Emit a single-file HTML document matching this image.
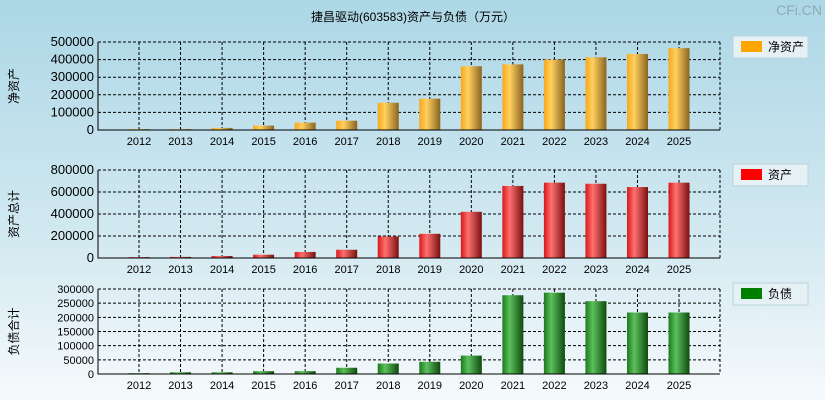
<!DOCTYPE html>
<html><head><meta charset="utf-8"><style>
html,body{margin:0;padding:0;}
body{width:825px;height:400px;overflow:hidden;background:linear-gradient(#acd7e6,#d3e9f1 60%,#f6fafc);font-family:"Liberation Sans","Noto Sans CJK SC",sans-serif;}
</style></head><body>
<svg id="c" width="825" height="400" style="position:absolute;left:0;top:0">
<defs>
<linearGradient id="gOr" x1="0" x2="1"><stop offset="0" stop-color="#f7a81c"/><stop offset="0.35" stop-color="#ffd060"/><stop offset="1" stop-color="#8a6420"/></linearGradient>
<linearGradient id="gRd" x1="0" x2="1"><stop offset="0" stop-color="#d81818"/><stop offset="0.35" stop-color="#ff7070"/><stop offset="1" stop-color="#7a1010"/></linearGradient>
<linearGradient id="gGr" x1="0" x2="1"><stop offset="0" stop-color="#1d7a1d"/><stop offset="0.35" stop-color="#5cc05c"/><stop offset="1" stop-color="#0e4a0e"/></linearGradient>
</defs>
<text x="413" y="21" font-size="12" text-anchor="middle">捷昌驱动(603583)资产与负债（万元）</text>
<text x="822" y="15" font-size="14" text-anchor="end" fill="#8fa9b5">CFi.CN</text>
</svg>
<script>
const years=["2012","2013","2014","2015","2016","2017","2018","2019","2020","2021","2022","2023","2024","2025"];
const netAssets=[5000,5000,12000,25000,42000,53000,155000,178000,362000,373000,400000,413000,432000,465000];
const totalAssets=[8000,10000,18000,30000,55000,75000,195000,220000,420000,655000,685000,675000,645000,685000];
const totalLiab=[3000,6000,6000,10000,10000,22000,37000,43000,65000,278000,287000,257000,217000,217000];
const ticks1=[0,100000,200000,300000,400000,500000];
const ticks2=[0,200000,400000,600000,800000];
const ticks3=[0,50000,100000,150000,200000,250000,300000];
const svg=document.getElementById('c');
const NS="http://www.w3.org/2000/svg";
function mk(t,a){const e=document.createElementNS(NS,t);for(const k in a)e.setAttribute(k,a[k]);svg.appendChild(e);return e;}
const L=98,R=720;
function xs(i){return 139+i*41.54;}
function panel(key,top,bot,ticks,vals,grad,ytitle,legend,legColor,fs){
  const max=ticks[ticks.length-1];
  const ys=v=>bot-(v/max)*(bot-top);
  ticks.forEach(t=>{
    const y=ys(t);
    if(t>0){const g=mk('line',{x1:L,x2:R,y1:y,y2:y,stroke:'#000','stroke-dasharray':'3,2','stroke-width':1});
    }
    const tx=mk('text',{x:L-4,y:y+4,'font-size':fs,'text-anchor':'end'});tx.textContent=t;
    
  });
  years.forEach((yr,i)=>{
    const x=xs(i);
    const g=mk('line',{x1:x,x2:x,y1:top,y2:bot,stroke:'#000','stroke-dasharray':'3,2'});
    
    const tx=mk('text',{x:x,y:bot+15,'font-size':11,'text-anchor':'middle'});tx.textContent=yr;
    
  });
  mk('line',{x1:R,x2:R,y1:top,y2:bot,stroke:'#000','stroke-dasharray':'3,2'});
  vals.forEach((v,i)=>{
    const y=ys(v);
    const b=mk('rect',{x:xs(i)-10.5,y:y,width:21,height:bot-y,fill:'url(#'+grad+')'});
    
  });
  const ax=mk('path',{d:`M${L} ${top} V${bot} H${R}`,stroke:'#000',fill:'none','stroke-width':1});
  
  const cy=(top+bot)/2;
  const yt=mk('text',{x:0,y:0,'font-size':12,'text-anchor':'middle',transform:`translate(18,${cy}) rotate(-90)`});yt.textContent=ytitle;
  
  const lb=mk('rect',{x:733,y:top-6,width:75,height:22,fill:'#e6f1f6',stroke:'#b9d2dd'});
  
  mk('rect',{x:741,y:top-1,width:21,height:11,fill:legColor});
  const lt=mk('text',{x:768,y:top+9,'font-size':12});lt.textContent=legend;
  
}
panel('net-assets',42,130,ticks1,netAssets,'gOr','净资产','净资产','#ffa500',13);
panel('total-assets',170,258,ticks2,totalAssets,'gRd','资产总计','资产','#ff0000',13);
panel('total-liabilities',289,374,ticks3,totalLiab,'gGr','负债合计','负债','#008000',11);
</script>
</body></html>
